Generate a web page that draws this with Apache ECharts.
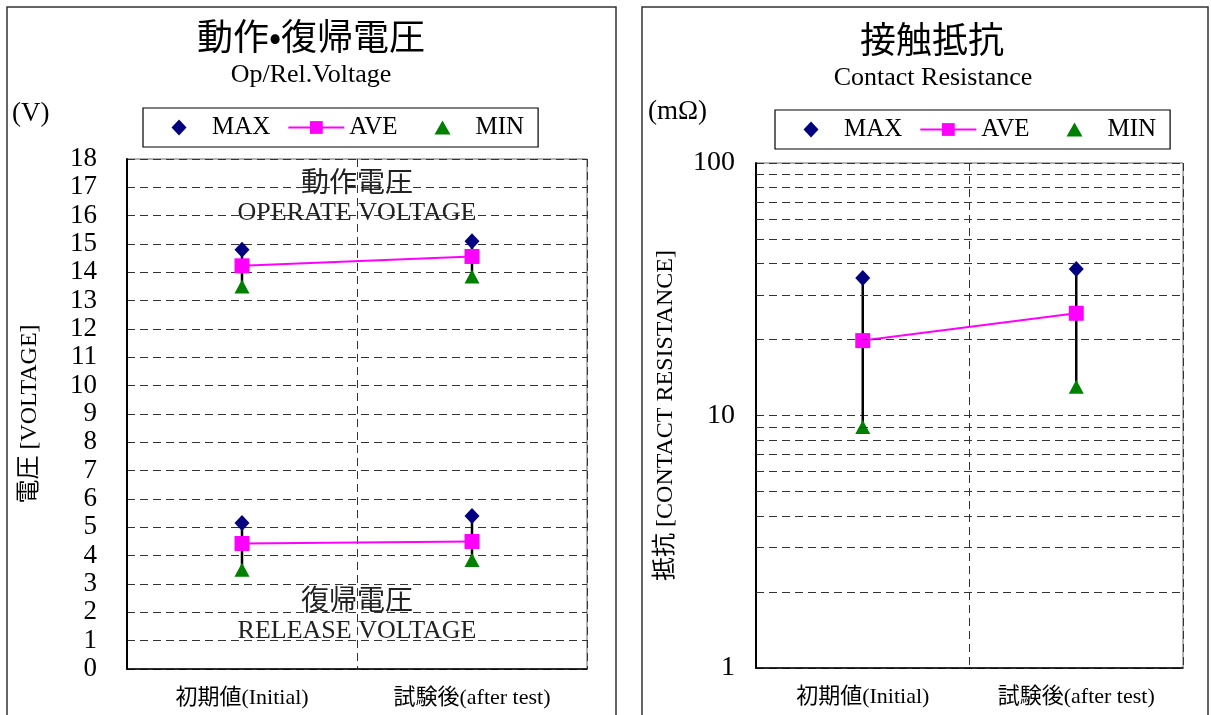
<!DOCTYPE html>
<html>
<head>
<meta charset="utf-8">
<script src="https://cdn.jsdelivr.net/npm/echarts@6/dist/echarts.min.js"></script>
<style>
  html, body { margin: 0; padding: 0; background: #fff; }
  #chart { width: 1211px; height: 715px; }
</style>
</head>
<body>
<div id="chart"></div>
<script>
// Categories shared by both panels
const categories = ['初期値(Initial)', '試験後(after test)'];

// Operate / release voltage (V)
const opMax = [14.8, 15.1];
const opAve = [14.23, 14.56];
const opMin = [13.5, 13.85];
const relMax = [5.15, 5.4];
const relAve = [4.43, 4.5];
const relMin = [3.5, 3.85];

// Contact resistance (mΩ)
const crMax = [35, 38];
const crAve = [19.8, 25.4];
const crMin = [9, 13];

// Voltage axis range and step
const voltMin = 0;
const voltMax = 18;
const voltStep = 1;

// Log axis range and its intermediate grid values
const resMin = 1;
const resMax = 100;
const resGridValues = [2, 3, 4, 5, 6, 7, 8, 9, 20, 30, 40, 50, 60, 70, 80, 90];

const SERIF = '"Liberation Serif", "DejaVu Serif", "Noto Sans CJK JP", serif';
const CJK = '"Noto Sans CJK JP", "Liberation Serif", serif';
const C_MAX = '#000080';
const C_AVE = '#FF00FF';
const C_MIN = '#008000';
const GRID_DASH = { type: [8, 5], color: '#333', width: 1 };

// Legend icons: a small shape centred in a 56x16 box, so that the
// icon keeps its proportions next to the wide AVE line icon.
const BOX = 'M0,0 L0,0 M56,16 L56,16 ';
const ICON_DIAMOND = 'path://' + BOX + 'M28,0 L35.5,8 L28,16 L20.5,8 Z';
const ICON_TRIANGLE = 'path://' + BOX + 'M28,1 L36,15 L20,15 Z';

function rangeData(lo, hi) {
  return lo.map((v, i) => [i, v, hi[i]]);
}

// vertical black bar joining MIN and MAX of each category
function hiLoSeries(xi, lo, hi, extra) {
  return Object.assign({
    type: 'custom',
    xAxisIndex: xi,
    yAxisIndex: xi,
    z: 1,
    silent: true,
    data: rangeData(lo, hi),
    encode: { x: 0, y: [1, 2] },
    renderItem: function (params, api) {
      const a = api.coord([api.value(0), api.value(1)]);
      const b = api.coord([api.value(0), api.value(2)]);
      return {
        type: 'line',
        shape: { x1: a[0], y1: a[1], x2: b[0], y2: b[1] },
        style: { stroke: '#000', lineWidth: 2.5 }
      };
    }
  }, extra || {});
}

function maxSeries(xi, data) {
  return { name: 'MAX', type: 'scatter', xAxisIndex: xi, yAxisIndex: xi, symbol: 'diamond',
    symbolSize: [15, 16], itemStyle: { color: C_MAX, opacity: 1 }, data: data, z: 3 };
}
function minSeries(xi, data) {
  return { name: 'MIN', type: 'scatter', xAxisIndex: xi, yAxisIndex: xi, symbol: 'triangle',
    symbolSize: [15, 14], itemStyle: { color: C_MIN, opacity: 1 }, data: data, z: 3 };
}
function aveSeries(xi, data) {
  return { name: 'AVE', type: 'line', xAxisIndex: xi, yAxisIndex: xi, symbol: 'rect',
    symbolSize: 15, lineStyle: { color: C_AVE, width: 2 }, itemStyle: { color: C_AVE },
    data: data, z: 4 };
}

function legendFor(left, top) {
  return {
    left: left, top: top,
    data: [
      { name: 'MAX', icon: ICON_DIAMOND },
      { name: 'AVE' },
      { name: 'MIN', icon: ICON_TRIANGLE }
    ],
    itemWidth: 56, itemHeight: 16, itemGap: 17,
    borderColor: '#000', borderWidth: 1.2,
    padding: [7, 14, 7, 8],
    selectedMode: false,
    textStyle: { fontSize: 25, fontFamily: SERIF, color: '#000' }
  };
}

function catAxis(gi) {
  return {
    type: 'category', gridIndex: gi, data: categories, boundaryGap: true,
    axisLine: { lineStyle: { color: '#000', width: 1.5 } },
    axisTick: { show: false },
    axisLabel: { color: '#000', fontSize: 22, fontFamily: SERIF, margin: 18 },
    splitLine: { show: true, lineStyle: GRID_DASH }
  };
}

const chart = echarts.init(document.getElementById('chart'), null, { renderer: 'canvas' });

chart.setOption({
  animation: false,
  backgroundColor: '#fff',
  title: [
    { text: '動作•復帰電圧', left: 311, top: 18, textAlign: 'center', padding: 0,
      textStyle: { fontSize: 36, fontWeight: 'normal', fontFamily: CJK, color: '#000' } },
    { text: 'Op/Rel.Voltage', left: 311, top: 62, textAlign: 'center', padding: 0,
      textStyle: { fontSize: 26, fontWeight: 'normal', fontFamily: SERIF, color: '#000' } },
    { text: '接触抵抗', left: 932, top: 21, textAlign: 'center', padding: 0,
      textStyle: { fontSize: 36, fontWeight: 'normal', fontFamily: CJK, color: '#000' } },
    { text: 'Contact Resistance', left: 933, top: 65, textAlign: 'center', padding: 0,
      textStyle: { fontSize: 26, fontWeight: 'normal', fontFamily: SERIF, color: '#000' } }
  ],
  legend: [legendFor(143, 108), legendFor(775, 110)],
  grid: [
    { left: 127, top: 159, width: 460, height: 510, show: true, borderColor: '#666', borderWidth: 1 },
    { left: 756, top: 163, width: 427, height: 505, show: true, borderColor: '#666', borderWidth: 1 }
  ],
  xAxis: [catAxis(0), catAxis(1)],
  yAxis: [
    {
      type: 'value', gridIndex: 0, min: voltMin, max: voltMax, interval: voltStep,
      name: '電圧 [VOLTAGE]', nameLocation: 'middle', nameGap: 85, nameRotate: 90,
      nameTextStyle: { fontSize: 24, fontFamily: SERIF, color: '#000' },
      axisLine: { show: true, lineStyle: { color: '#000', width: 2 } },
      axisTick: { show: false },
      axisLabel: { color: '#000', fontSize: 27, fontFamily: SERIF, margin: 30 },
      splitLine: { show: true, lineStyle: GRID_DASH }
    },
    {
      type: 'log', gridIndex: 1, logBase: 10, min: resMin, max: resMax,
      name: '抵抗 [CONTACT RESISTANCE]', nameLocation: 'middle', nameGap: 78, nameRotate: 90,
      nameTextStyle: { fontSize: 24, fontFamily: SERIF, color: '#000' },
      axisLine: { show: true, lineStyle: { color: '#000', width: 2 } },
      axisTick: { show: false },
      axisLabel: { color: '#000', fontSize: 28, fontFamily: SERIF, margin: 21 },
      splitLine: { show: true, lineStyle: GRID_DASH }
    }
  ],
  series: [
    // voltage panel
    hiLoSeries(0, opMin, opMax),
    hiLoSeries(0, relMin, relMax),
    maxSeries(0, opMax),
    maxSeries(0, relMax),
    aveSeries(0, opAve),
    aveSeries(0, relAve),
    minSeries(0, opMin),
    minSeries(0, relMin),
    // contact resistance panel
    hiLoSeries(1, crMin, crMax, {
      markLine: {
        silent: true, symbol: 'none', label: { show: false },
        lineStyle: GRID_DASH,
        data: resGridValues.map(v => ({ yAxis: v }))
      }
    }),
    maxSeries(1, crMax),
    aveSeries(1, crAve),
    minSeries(1, crMin)
  ],
  graphic: [
    { type: 'rect', z: -10, silent: true, shape: { x: 7, y: 7, width: 609, height: 730 },
      style: { fill: 'none', stroke: '#333', lineWidth: 1.5 } },
    { type: 'rect', z: -10, silent: true, shape: { x: 642, y: 7, width: 566, height: 730 },
      style: { fill: 'none', stroke: '#333', lineWidth: 1.5 } },
    { type: 'text', left: 12, top: 100,
      style: { text: '(V)', fontSize: 27, fontFamily: SERIF, fill: '#000' } },
    { type: 'text', left: 648, top: 98,
      style: { text: '(mΩ)', fontSize: 27, fontFamily: SERIF, fill: '#000' } },
    { type: 'text', x: 357, y: 181, z: 10,
      style: { text: '動作電圧', fontSize: 28, fontFamily: CJK, fill: '#222', align: 'center', verticalAlign: 'middle' } },
    { type: 'text', x: 357, y: 213, z: 10,
      style: { text: 'OPERATE VOLTAGE', fontSize: 26, fontFamily: SERIF, fill: '#222', align: 'center', verticalAlign: 'middle' } },
    { type: 'text', x: 357, y: 599, z: 10,
      style: { text: '復帰電圧', fontSize: 28, fontFamily: CJK, fill: '#222', align: 'center', verticalAlign: 'middle' } },
    { type: 'text', x: 357, y: 631, z: 10,
      style: { text: 'RELEASE VOLTAGE', fontSize: 26, fontFamily: SERIF, fill: '#222', align: 'center', verticalAlign: 'middle' } }
  ]
});
</script>
</body>
</html>
